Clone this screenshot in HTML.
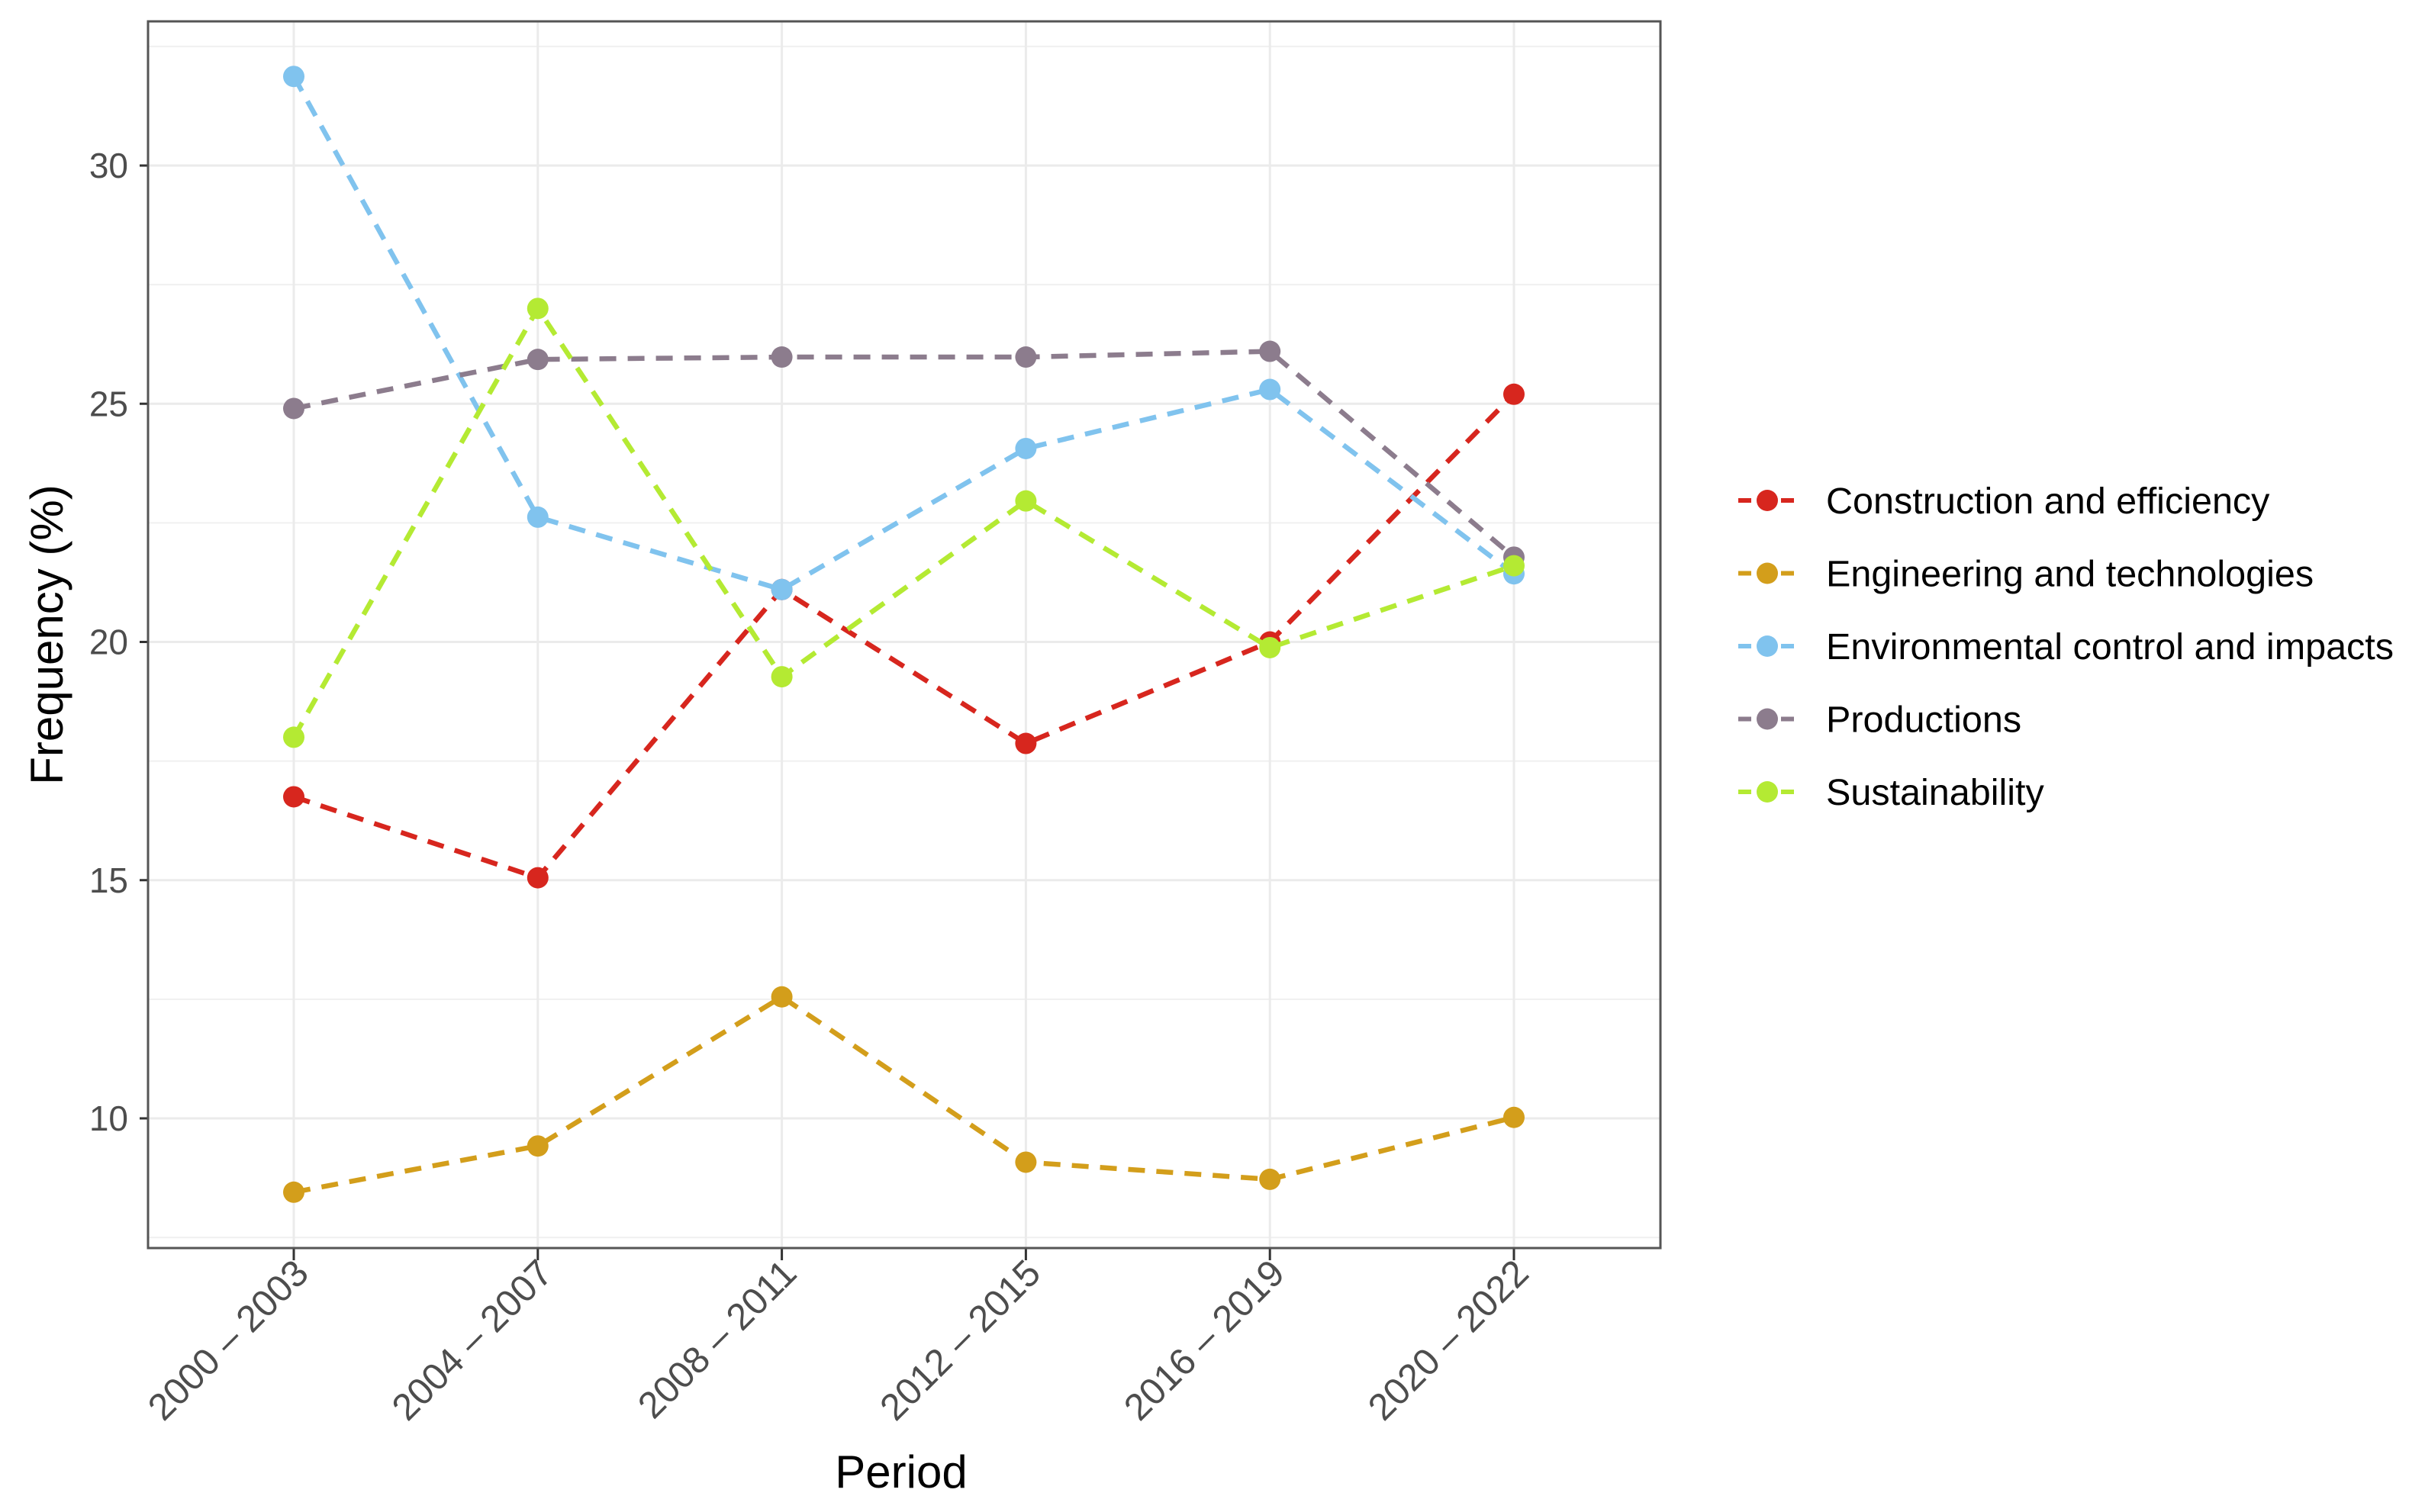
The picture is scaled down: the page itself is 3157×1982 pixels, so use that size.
<!DOCTYPE html>
<html><head><meta charset="utf-8"><style>body{margin:0;background:#fff}svg{display:block}</style></head>
<body>
<svg id="chart" width="3157" height="1982" viewBox="0 0 3157 1982" xmlns="http://www.w3.org/2000/svg" font-family="Liberation Sans, Arial, sans-serif">
<rect width="3157" height="1982" fill="#fff"/>
<g id="grid"></g><g id="series"></g><g id="axes"></g><g id="legend"></g>
</svg>
<script>
const categories = ["2000 – 2003","2004 – 2007","2008 – 2011","2012 – 2015","2016 – 2019","2020 – 2022"];
const seriesNames = ["Construction and efficiency","Engineering and technologies","Environmental control and impacts","Productions","Sustainability"];
const construction = [16.75, 15.05, 21.1, 17.87, 20.0, 25.2];
const engineering = [8.45, 9.42, 12.55, 9.08, 8.72, 10.02];
const environmental = [31.87, 22.62, 21.1, 24.06, 25.3, 21.43];
const productions = [24.9, 25.93, 25.98, 25.98, 26.1, 21.78];
const sustainability = [18.0, 27.0, 19.27, 22.96, 19.88, 21.6];
const yTicks = [10, 15, 20, 25, 30];
const colors = ["#D7261E","#D39E1B","#80C3EE","#8C7C8D","#B4EA33"];
const NS = "http://www.w3.org/2000/svg";
const L = 194, R = 2176, T = 28, B = 1636;
function xs(i){ return 385 + i * 319.8; }
function ys(v){ return 1466 - (v - 10) * 62.45; }
function mk(tag, attrs, parent){ const e = document.createElementNS(NS, tag); for (const k in attrs) e.setAttribute(k, attrs[k]); parent.appendChild(e); return e; }
const grid = document.getElementById('grid'), axes = document.getElementById('axes'), ser = document.getElementById('series'), leg = document.getElementById('legend');
for (let v = 7.5; v <= 32.5; v += 5) { const y = ys(v); if (y > T && y < B) { const g = mk('line', {x1:L, x2:R, y1:y, y2:y, stroke:'#f0f0f0', 'stroke-width':2}, grid);

 } }
yTicks.forEach(v => { const y = ys(v);
 const g = mk('line', {x1:L, x2:R, y1:y, y2:y, stroke:'#ebebeb', 'stroke-width':3}, grid);
 
 
 const t = mk('line', {x1:183, x2:L, y1:y, y2:y, stroke:'#333', 'stroke-width':3}, axes);
 
 
 const tx = mk('text', {x:168, y:y+16, 'text-anchor':'end', 'font-size':46, fill:'#4d4d4d'}, axes); tx.textContent = v;
 
 
});
categories.forEach((c, i) => { const x = xs(i);
 const g = mk('line', {x1:x, x2:x, y1:T, y2:B, stroke:'#ebebeb', 'stroke-width':3}, grid);
 
 
 const t = mk('line', {x1:x, x2:x, y1:B, y2:B+16, stroke:'#333', 'stroke-width':3}, axes);
 
 
 const tx = mk('text', {x:x+22, y:B+36, 'text-anchor':'end', 'font-size':49, fill:'#4d4d4d', transform:`rotate(-45 ${x+22} ${B+36})`}, axes); tx.textContent = c;
 
 
});
const frame = mk('rect', {x:L, y:T, width:R-L, height:B-T, fill:'none', stroke:'#555', 'stroke-width':3}, axes);


const xt = mk('text', {x:(L+R)/2 - 4, y:1950, 'text-anchor':'middle', 'font-size':60, fill:'#000'}, axes); xt.textContent = 'Period';


const yt = mk('text', {x:82, y:(T+B)/2, 'text-anchor':'middle', 'font-size':60, fill:'#000', transform:`rotate(-90 82 ${(T+B)/2})`}, axes); yt.textContent = 'Frequency (%)';


const allSeries = [construction, engineering, environmental, productions, sustainability];
const keys = ['construction','engineering','environmental','productions','sustainability'];
allSeries.forEach((vals, s) => {
 const g = mk('g', {}, ser);
 
 
 const pl = mk('polyline', {points: vals.map((v,i)=>xs(i)+','+ys(v)).join(' '), fill:'none', stroke:colors[s], 'stroke-width':6.5, 'stroke-dasharray':'22 15'}, g);
 
 
 vals.forEach((v,i) => { const c = mk('circle', {cx:xs(i), cy:ys(v), r:14, fill:colors[s]}, g);
  
   });
 const ly = 656 + s * 95.5;
 const lg = mk('g', {}, leg);
 
 
 mk('line', {x1:2278, x2:2354, y1:ly, y2:ly, stroke:colors[s], 'stroke-width':6, 'stroke-dasharray':'17 11'}, lg);
 mk('circle', {cx:2316, cy:ly, r:14, fill:colors[s]}, lg);
 const lt = mk('text', {x:2393, y:ly+17, 'font-size':48.5, fill:'#000'}, lg); lt.textContent = seriesNames[s];
});
</script>
</body></html>
